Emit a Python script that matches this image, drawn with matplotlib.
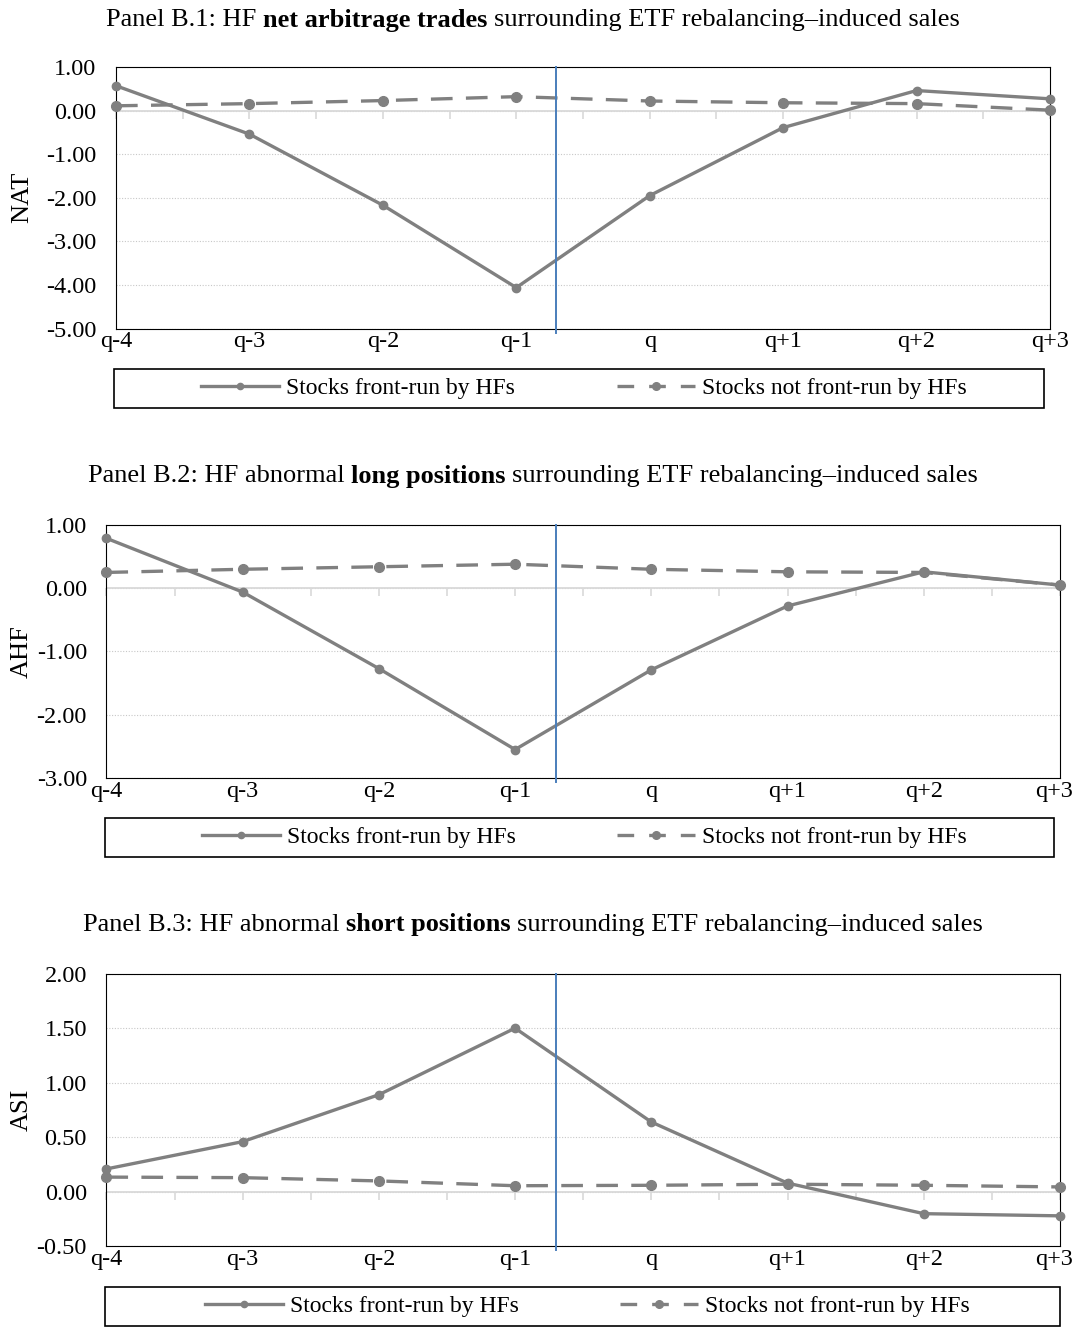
import numpy as np
import matplotlib
matplotlib.use("Agg")
import matplotlib.pyplot as plt
from matplotlib.patches import Rectangle
from matplotlib.lines import Line2D
from matplotlib.transforms import ScaledTranslation

plt.rcParams["font.family"] = ["Liberation Serif", "DejaVu Serif"]

quarters = ["q-4", "q-3", "q-2", "q-1", "q", "q+1", "q+2", "q+3"]

# NAT (panel B.1)
nat_front = [0.57, -0.54, -2.17, -4.06, -1.95, -0.39, 0.46, 0.27]
nat_not = [0.11, 0.16, 0.23, 0.32, 0.22, 0.18, 0.16, 0.01]

# AHF (panel B.2)
ahf_front = [0.79, -0.06, -1.27, -2.55, -1.29, -0.28, 0.26, 0.05]
ahf_not = [0.25, 0.30, 0.34, 0.38, 0.30, 0.26, 0.25, 0.05]

# ASI (panel B.3)
asi_front = [0.21, 0.46, 0.89, 1.50, 0.64, 0.08, -0.20, -0.22]
asi_not = [0.135, 0.13, 0.10, 0.056, 0.06, 0.07, 0.06, 0.045]

# event marker sits between q-1 and q
event_x = 3.3

W, H = 1073, 1327
GRAY = "#808080"
BLUE = "#4a7ebb"
TICK_FS = 17.5
LEG_FS = 17
TITLE_FS = 19

fig = plt.figure(figsize=(W / 100, H / 100), dpi=100)
renderer = fig.canvas.get_renderer()


def rect(l, r, t, b):
    return [l / W, 1 - b / H, (r - l) / W, (b - t) / H]


def text_width(s, weight="normal", size=TITLE_FS):
    t = fig.text(0, 0, s, fontsize=size, fontweight=weight)
    w = t.get_window_extent(renderer).width
    t.remove()
    return w


def draw_title(parts, xc, y, size=TITLE_FS):
    space = text_width("a a", size=size) - text_width("aa", size=size)
    widths = [text_width(s, "bold" if b else "normal", size) for s, b in parts]
    total = sum(widths) + space * (len(parts) - 1)
    x = xc - total / 2
    for (s, b), w in zip(parts, widths):
        fig.text(x / W, 1 - y / H, s, fontsize=size,
                 fontweight="bold" if b else "normal", va="center", ha="left")
        x += w + space


panels = [
    dict(front=nat_front, other=nat_not, ylim=(-5, 1), step=1.0, label="NAT",
         axes=(116, 1050, 67, 328.6), box=(114, 1044, 369, 408), ty=20,
         title=[("Panel B.1: HF", False), ("net arbitrage trades", True),
                ("surrounding ETF rebalancing–induced sales", False)]),
    dict(front=ahf_front, other=ahf_not, ylim=(-3, 1), step=1.0, label="AHF",
         axes=(106.4, 1060, 525, 778), box=(105, 1054, 818, 857), ty=476,
         title=[("Panel B.2: HF abnormal", False), ("long positions", True),
                ("surrounding ETF rebalancing–induced sales", False)]),
    dict(front=asi_front, other=asi_not, ylim=(-0.5, 2), step=0.5, label="ASI",
         axes=(106.4, 1060, 973.6, 1246.4), box=(105, 1060, 1287, 1326), ty=925,
         title=[("Panel B.3: HF abnormal", False), ("short positions", True),
                ("surrounding ETF rebalancing–induced sales", False)]),
]

x = np.arange(len(quarters))

for p in panels:
    l, r, t, b = p["axes"]
    ax = fig.add_axes(rect(l, r, t, b))
    lo, hi = p["ylim"]
    ax.set_ylim(lo, hi)
    ax.set_xlim(x[0], x[-1])
    yt = np.arange(lo, hi + 1e-9, p["step"])
    ax.set_yticks(yt)
    ax.set_yticklabels([f"{v:.2f}" for v in yt])
    ax.set_xticks(x)
    ax.set_xticklabels(quarters)
    ax.tick_params(axis="both", length=0, labelsize=TICK_FS)
    ax.tick_params(axis="y", pad=14)
    ax.tick_params(axis="x", pad=2)
    # keep the last quarter label inside the page
    last = ax.get_xticklabels()[-1]
    shift = max(0, r + 19 - W)
    last.set_transform(last.get_transform() + ScaledTranslation(-shift / 100, 0, fig.dpi_scale_trans))

    fig.text(22 / W, 1 - (t + b) / 2 / H, p["label"], rotation=90,
             fontsize=19, ha="center", va="center")

    for s in ax.spines.values():
        s.set_color("black")
        s.set_linewidth(0.8)

    ax.yaxis.grid(True, linestyle=(0, (1, 1.5)), color="#c8c8c8", linewidth=0.8)
    ax.set_axisbelow(True)
    ax.axhline(0, color="#d9d9d9", linewidth=1.3, zorder=1)
    half = np.arange(x[0], x[-1] + 0.01, 0.5)
    ax.plot(half, np.zeros_like(half), ls="none", marker=3, ms=6,
            mec="#d9d9d9", mew=1.2, zorder=1, clip_on=False)

    ax.plot(x, p["other"], color=GRAY, lw=2.4, dashes=(6.5, 4),
            marker="o", ms=7, zorder=3, clip_on=False)
    ax.plot(x, p["front"], color=GRAY, lw=2.4, marker="o", ms=6,
            zorder=4, clip_on=False)
    ax.axvline(event_x, ymin=-0.015, ymax=1, color=BLUE, lw=1.4, zorder=5, clip_on=False)

    # legend under the plot
    bl, br, bt, bb = p["box"]
    fig.add_artist(Rectangle((bl / W, 1 - bb / H), (br - bl) / W, (bb - bt) / H,
                             transform=fig.transFigure, fill=False,
                             ec="black", lw=1.2))
    handles = [
        Line2D([], [], color=GRAY, lw=2.4, marker="o", ms=4.5),
        Line2D([], [], color=GRAY, lw=2.4, dashes=(5, 4.5), marker="o", ms=5.5),
    ]
    ax.legend(handles, ["Stocks front-run by HFs", "Stocks not front-run by HFs"],
              loc="center", bbox_to_anchor=(((bl + br) / 2 + 5) / W, 1 - (bt + bb) / 2 / H),
              bbox_transform=fig.transFigure, frameon=False, ncol=2,
              fontsize=LEG_FS, handlelength=3.3, columnspacing=4.3, handletextpad=0.3)

    draw_title(p["title"], 533, p["ty"])

fig.savefig("out.png", dpi=100)
